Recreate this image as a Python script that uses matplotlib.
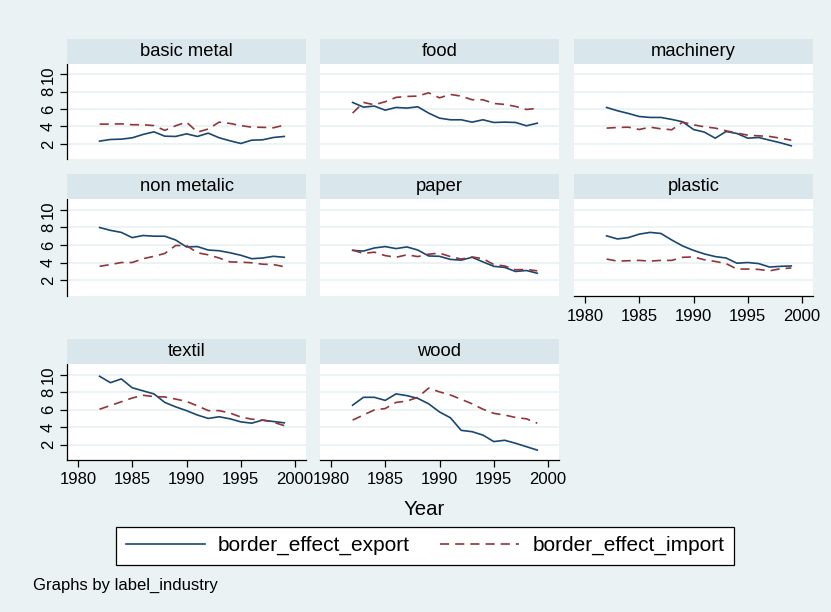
import matplotlib
matplotlib.use("Agg")
import matplotlib.pyplot as plt
import numpy as np

plt.rcParams['font.family'] = ['Liberation Sans', 'DejaVu Sans']

years = list(range(1982, 2000))
industries = ["basic metal", "food", "machinery", "non metalic", "paper",
              "plastic", "textil", "wood"]

export_basic_metal = [2.31, 2.50, 2.54, 2.69, 3.08, 3.38, 2.88, 2.85, 3.15, 2.85, 3.23, 2.70, 2.35, 2.04, 2.42, 2.46, 2.73, 2.85]
import_basic_metal = [4.27, 4.27, 4.30, 4.20, 4.20, 4.10, 3.55, 4.08, 4.50, 3.35, 3.70, 4.50, 4.35, 4.10, 3.92, 3.90, 3.85, 4.15]
export_food = [6.77, 6.23, 6.35, 5.88, 6.19, 6.12, 6.27, 5.54, 4.96, 4.77, 4.77, 4.50, 4.77, 4.46, 4.50, 4.46, 4.08, 4.38]
import_food = [5.54, 6.77, 6.50, 6.85, 7.35, 7.46, 7.50, 7.88, 7.30, 7.69, 7.50, 7.08, 7.08, 6.65, 6.54, 6.31, 5.96, 6.08]
export_machinery = [6.19, 5.81, 5.50, 5.15, 5.04, 5.04, 4.81, 4.54, 3.65, 3.35, 2.65, 3.42, 3.19, 2.65, 2.73, 2.42, 2.12, 1.77]
import_machinery = [3.81, 3.88, 3.92, 3.65, 3.92, 3.73, 3.62, 4.50, 4.19, 3.96, 3.81, 3.50, 3.23, 3.00, 2.92, 2.85, 2.65, 2.42]
export_non_metalic = [7.98, 7.66, 7.43, 6.84, 7.08, 7.00, 7.00, 6.57, 5.79, 5.83, 5.44, 5.36, 5.13, 4.85, 4.46, 4.54, 4.73, 4.62]
import_non_metalic = [3.60, 3.80, 4.03, 4.03, 4.46, 4.73, 5.05, 5.95, 5.95, 5.13, 4.90, 4.54, 4.10, 4.07, 4.00, 3.84, 3.80, 3.56]
export_paper = [5.40, 5.32, 5.67, 5.83, 5.60, 5.79, 5.44, 4.77, 4.73, 4.38, 4.30, 4.62, 4.10, 3.60, 3.48, 3.02, 3.13, 2.82]
import_paper = [5.44, 5.05, 5.20, 4.81, 4.62, 4.90, 4.70, 4.97, 5.09, 4.70, 4.42, 4.66, 4.46, 3.80, 3.64, 3.21, 3.25, 3.09]
export_plastic = [7.04, 6.69, 6.84, 7.23, 7.43, 7.31, 6.57, 5.90, 5.40, 5.00, 4.70, 4.54, 3.95, 4.03, 3.91, 3.52, 3.60, 3.64]
import_plastic = [4.42, 4.19, 4.23, 4.27, 4.19, 4.27, 4.27, 4.62, 4.66, 4.34, 4.15, 3.91, 3.29, 3.29, 3.25, 3.09, 3.33, 3.41]
export_textil = [9.80, 9.07, 9.50, 8.49, 8.14, 7.79, 6.82, 6.31, 5.88, 5.38, 4.99, 5.18, 4.95, 4.60, 4.45, 4.80, 4.64, 4.49]
import_textil = [6.04, 6.47, 6.89, 7.32, 7.63, 7.48, 7.44, 7.20, 6.93, 6.43, 5.88, 5.88, 5.61, 5.15, 4.91, 4.80, 4.56, 4.17]
export_wood = [6.50, 7.40, 7.40, 7.05, 7.79, 7.59, 7.28, 6.66, 5.73, 5.07, 3.63, 3.48, 3.09, 2.35, 2.50, 2.16, 1.77, 1.38]
import_wood = [4.80, 5.38, 5.96, 6.12, 6.82, 6.97, 7.40, 8.45, 8.02, 7.67, 7.17, 6.66, 6.04, 5.57, 5.38, 5.10, 4.95, 4.45]

exports = [export_basic_metal, export_food, export_machinery, export_non_metalic,
           export_paper, export_plastic, export_textil, export_wood]
imports = [import_basic_metal, import_food, import_machinery, import_non_metalic,
           import_paper, import_plastic, import_textil, import_wood]

y_ticks = [2, 4, 6, 8, 10]
x_ticks = [1980, 1985, 1990, 1995, 2000]

BG = '#EAF2F3'
STRIP = '#D9E6EB'
NAVY = '#1A476F'
MAROON = '#90353B'

W, H = 831, 612
fig = plt.figure(figsize=(W / 100, H / 100), dpi=100, facecolor=BG)

col_left = [67, 320, 574]
pw = 239
rows = [(64, 159), (199, 296), (364, 460)]
strip_h = 25

def fr(x0, y0, x1, y1):
    return [x0 / W, 1 - y1 / H, (x1 - x0) / W, (y1 - y0) / H]

handles = None
for i, name in enumerate(industries):
    r, c = divmod(i, 3)
    x0 = col_left[c]
    top, bot = rows[r]
    ax = fig.add_axes(fr(x0, top, x0 + pw, bot))
    ax.set_facecolor('white')
    ax.set_xlim(1979, 2001)
    ax.set_ylim(0.25, 11.2)
    ax.set_yticks(y_ticks)
    ax.set_xticks(x_ticks)
    ax.grid(axis='y', color=BG, linewidth=1.3)
    ax.set_axisbelow(True)
    for s in ax.spines.values():
        s.set_visible(False)
    l1, = ax.plot(years, exports[i], color=NAVY, linewidth=1.2,
                  label='border_effect_export')
    l2, = ax.plot(years, imports[i], color=MAROON, linewidth=1.2,
                  dashes=(5.5, 3.6), label='border_effect_import')
    if handles is None:
        handles = [l1, l2]
    show_y = (c == 0)
    show_x = (i >= 5)
    if show_y:
        ax.spines['left'].set_visible(True)
        ax.spines['left'].set_linewidth(0.9)
        ax.tick_params(axis='y', direction='out', length=5, width=0.9,
                       pad=3, labelsize=12, labelrotation=90)
        for lab in ax.get_yticklabels():
            lab.set_va('center')
    else:
        ax.tick_params(axis='y', left=False, labelleft=False)
    if show_x:
        ax.spines['bottom'].set_visible(True)
        ax.spines['bottom'].set_linewidth(0.9)
        ax.tick_params(axis='x', direction='out', length=5, width=0.9,
                       pad=4, labelsize=12)
    else:
        ax.tick_params(axis='x', bottom=False, labelbottom=False)

    sax = fig.add_axes(fr(x0, top - strip_h, x0 + pw, top))
    sax.set_facecolor(STRIP)
    sax.set_xticks([])
    sax.set_yticks([])
    for s in sax.spines.values():
        s.set_visible(False)
    sax.text(0.5, 0.5, name, ha='center', va='center', fontsize=13.2,
             transform=sax.transAxes)

fig.text(424.5 / W, 1 - 515 / H, 'Year', ha='center', va='baseline',
         fontsize=14.7)

leg = fig.legend(handles=handles, labels=['border_effect_export', 'border_effect_import'],
                 loc='center', bbox_to_anchor=(425 / W, 1 - 545.5 / H), ncol=2,
                 fontsize=15, frameon=True, fancybox=False, framealpha=1,
                 edgecolor='black', handlelength=3.8, handletextpad=0.62,
                 columnspacing=1.45, borderpad=0.45, borderaxespad=0)
leg.get_frame().set_linewidth(0.9)

fig.text(33 / W, 1 - 590 / H, 'Graphs by label_industry', ha='left',
         va='baseline', fontsize=12)

fig.savefig('out.png', dpi=100, facecolor=BG)
